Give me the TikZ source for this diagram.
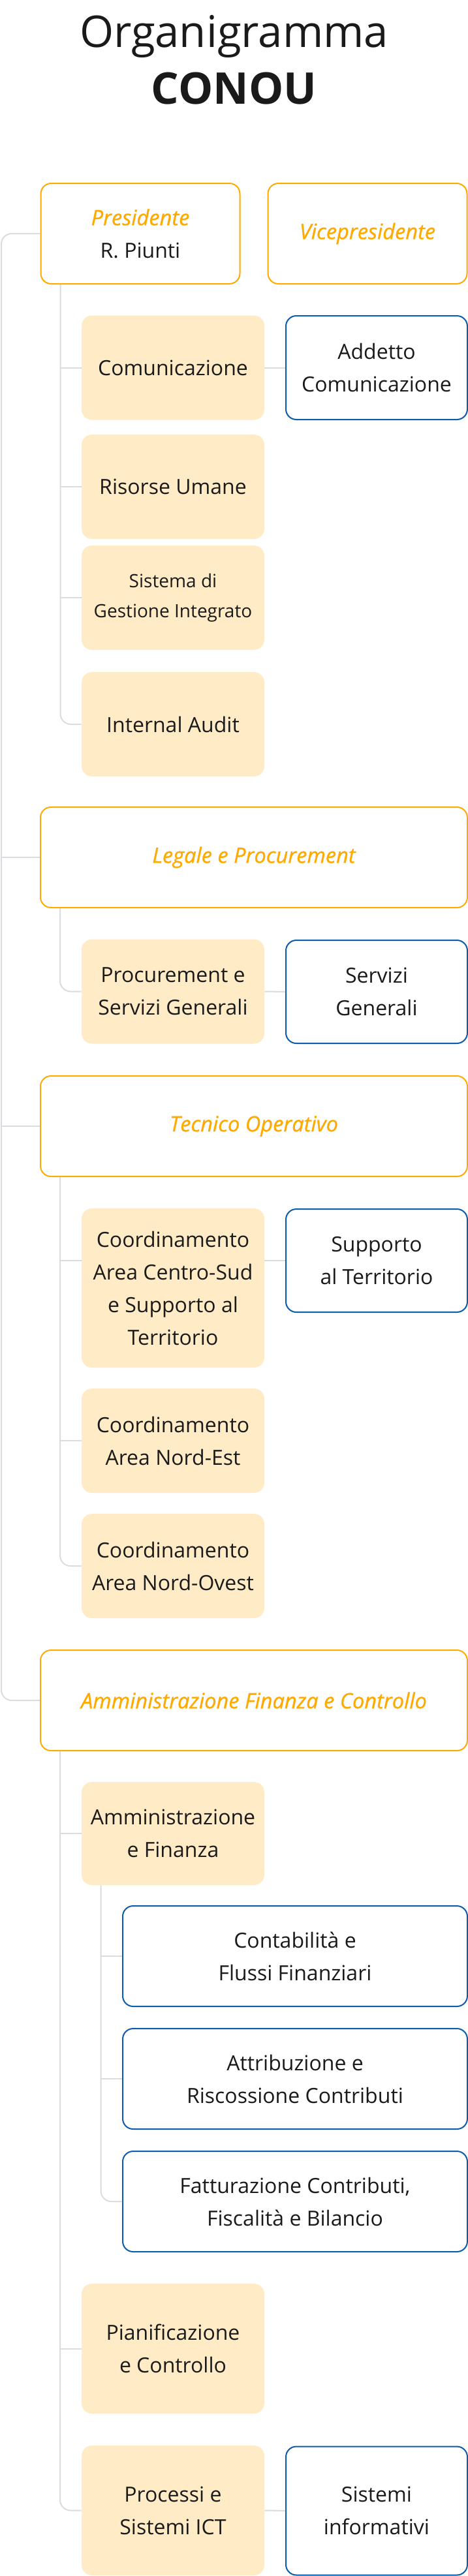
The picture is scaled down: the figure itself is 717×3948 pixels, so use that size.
\documentclass[tikz,border=0pt]{standalone}
\usepackage{fontspec}
\setmainfont{Open Sans}
\newfontfamily\hdrfont{Open Sans}[FakeBold=0.8]
\definecolor{orangeC}{HTML}{FFAA00}
\definecolor{peach}{HTML}{FFEBC6}
\definecolor{blueC}{HTML}{0B5CAD}
\definecolor{grayC}{HTML}{D9DCE1}
\definecolor{txt}{HTML}{1A1A1A}
\tikzset{
  basebox/.style={rectangle, rounded corners=8pt, align=center, inner sep=0pt, text=txt, font=\fontsize{16}{25}\selectfont},
  topbox/.style={basebox, draw=orangeC, line width=1pt, fill=white},
  hdr/.style={topbox, text=orangeC, font=\fontsize{16.3}{25}\hdrfont\itshape},
  unitbox/.style={basebox, fill=peach},
  subbox/.style={basebox, draw=blueC, line width=1pt, fill=white},
  conn/.style={draw=grayC, line width=1pt},
  titletext/.style={anchor=base, inner sep=0pt, text=txt, font=\fontsize{33.5}{40}\selectfont},
  wtop/.style={minimum width=327pt, minimum height=77pt},
  wunit/.style={minimum width=140pt},
  wside/.style={minimum width=139pt},
  wlev2/.style={minimum width=264pt, minimum height=77pt}
}
\begin{document}
\begin{tikzpicture}[x=0.5pt,y=-0.5pt]
\useasboundingbox[fill=white] (0,0) rectangle (717,3948);

% title
\node[titletext] (title1) at (358.5,72) {Organigramma};
\node[titletext, font=\fontsize{33.5}{40}\selectfont\bfseries] (title2) at (358.5,159) {CONOU};

% top level
\node[topbox, minimum width=152.5pt, minimum height=77pt] (pres) at (215,358) {{\fontsize{16.3}{25}\hdrfont\itshape\color{orangeC}Presidente}\\R. Piunti};
\node[hdr, minimum width=152.5pt, minimum height=77pt] (vice) at (563,358) {Vicepresidente};
\node[hdr, wtop] (legale) at (389,1314) {Legale e Procurement};
\node[hdr, wtop] (tecnico) at (389,1726) {Tecnico Operativo};
\node[hdr, wtop] (afc) at (389,2606) {Amministrazione Finanza e Controllo};

% presidente group
\node[unitbox, wunit, minimum height=80pt] (comm) at (265,563.5) {Comunicazione};
\node[subbox, wside, minimum height=79.5pt] (addetto) at (577,563.5) {Addetto\\Comunicazione};
\node[unitbox, wunit, minimum height=80pt] (risorse) at (265,746) {Risorse Umane};
\node[unitbox, wunit, minimum height=80pt, font=\fontsize{14}{23}\selectfont] (sistema) at (265,916) {Sistema di\\Gestione Integrato};
\node[unitbox, wunit, minimum height=80pt] (audit) at (265,1110) {Internal Audit};

% legale group
\node[unitbox, wunit, minimum height=80pt] (proc) at (265,1519.5) {Procurement e\\Servizi Generali};
\node[subbox, wside, minimum height=79pt] (servgen) at (577,1520) {Servizi\\Generali};

% tecnico group
\node[unitbox, wunit, minimum height=122pt] (cs) at (265,1974) {Coordinamento\\Area Centro-Sud\\e Supporto al\\Territorio};
\node[subbox, wside, minimum height=79pt] (supp) at (577,1932) {Supporto\\al Territorio};
\node[unitbox, wunit, minimum height=80pt] (ne) at (265,2208) {Coordinamento\\Area Nord-Est};
\node[unitbox, wunit, minimum height=80pt] (no) at (265,2400) {Coordinamento\\Area Nord-Ovest};

% afc group
\node[unitbox, wunit, minimum height=79pt] (aef) at (265,2810) {Amministrazione\\e Finanza};
\node[subbox, wlev2] (cont) at (452,2998) {Contabilità e\\Flussi Finanziari};
\node[subbox, wlev2] (attr) at (452,3186) {Attribuzione e\\Riscossione Contributi};
\node[subbox, wlev2] (fatt) at (452,3374) {Fatturazione Contributi,\\Fiscalità e Bilancio};
\node[unitbox, wunit, minimum height=99.5pt] (pian) at (265,3599.5) {Pianificazione\\e Controllo};
\node[unitbox, wunit, minimum height=99.5pt] (ict) at (265,3847.5) {Processi e\\Sistemi ICT};
\node[subbox, wside, minimum height=98.5pt] (sisinf) at (577,3848) {Sistemi\\informativi};

% outer trunk
\coordinate (ox) at (2,358);
\draw[conn, rounded corners=8pt] (pres.west) -- (pres.west -| ox) |- (afc.west);
\draw[conn] (legale.west) -- (legale.west -| ox);
\draw[conn] (tecnico.west) -- (tecnico.west -| ox);

% presidente trunk
\coordinate (t1) at ([xshift=15.5pt]pres.south west);
\draw[conn, rounded corners=8pt] (t1) |- (audit.west);
\draw[conn] (comm.west) -- (comm.west -| t1);
\draw[conn] (risorse.west) -- (risorse.west -| t1);
\draw[conn] (sistema.west) -- (sistema.west -| t1);
\draw[conn] (comm.east) -- (addetto.west);

% legale trunk
\coordinate (t2) at ([xshift=15.5pt]legale.south west);
\draw[conn, rounded corners=8pt] (t2) |- (proc.west);
\draw[conn] (proc.east) -- (servgen.west);

% tecnico trunk
\coordinate (t3) at ([xshift=15.5pt]tecnico.south west);
\draw[conn, rounded corners=8pt] (t3) |- (no.west);
\draw[conn] (supp.west -| cs.west) -- (supp.west -| t3);
\draw[conn] (ne.west) -- (ne.west -| t3);
\draw[conn] (supp.west -| cs.east) -- (supp.west);

% afc trunk
\coordinate (t4) at ([xshift=15.5pt]afc.south west);
\draw[conn, rounded corners=8pt] (t4) |- (ict.west);
\draw[conn] (aef.west) -- (aef.west -| t4);
\draw[conn] (pian.west) -- (pian.west -| t4);
\draw[conn] (ict.east) -- (sisinf.west);

% amministrazione e finanza trunk
\coordinate (t5) at ([xshift=15pt]aef.south west);
\draw[conn, rounded corners=8pt] (t5) |- (fatt.west);
\draw[conn] (cont.west) -- (cont.west -| t5);
\draw[conn] (attr.west) -- (attr.west -| t5);
\end{tikzpicture}
\end{document}
